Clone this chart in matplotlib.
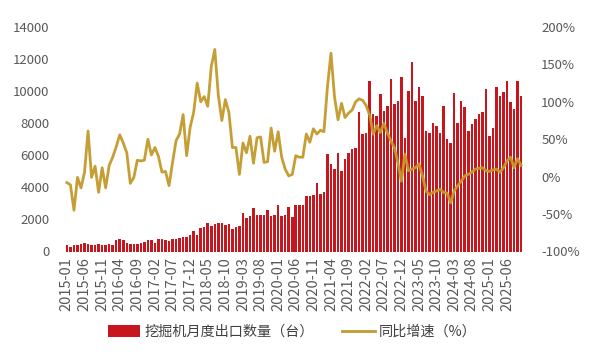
import matplotlib
matplotlib.use("Agg")
import matplotlib.pyplot as plt
from matplotlib.patches import Patch
from matplotlib.lines import Line2D

plt.rcParams['font.family'] = ['Noto Sans CJK SC', 'DejaVu Sans']

# monthly excavator exports (units), 2015-01 .. 2025-10
exports = [
    # 2015
    380, 300, 380, 400, 480, 530, 450, 420, 400, 460, 430, 420,
    # 2016
    450, 400, 700, 750, 720, 500, 470, 450, 480, 560, 620, 690,
    # 2017
    700, 560, 750, 750, 700, 650, 800, 750, 850, 900, 880, 1050,
    # 2018
    1250, 1000, 1450, 1500, 1750, 1600, 1700, 1750, 1800, 1650, 1700, 1400,
    # 2019
    1550, 1600, 2400, 2100, 2200, 2700, 2250, 2300, 2250, 2600, 2200, 2250,
    # 2020
    2900, 2200, 2250, 2800, 2150, 2900, 2900, 2900, 3450, 3450, 3500, 4280,
    # 2021
    3600, 3700, 6060, 5430, 5120, 6160, 5010, 5740, 6120, 6370, 6470, 8670,
    # 2022
    7310, 7410, 10650, 8560, 8460, 9800, 8770, 9080, 10750, 9190, 9400, 10860,
    # 2023
    7100, 10020, 11800, 9400, 10230, 9710, 7520, 7410, 8040, 7830, 7410, 9080,
    # 2024
    7000, 6790, 9900, 8040, 9400, 8980, 7520, 7940, 8250, 8560, 8670, 10130,
    # 2025
    7200, 7730, 10230, 9710, 9920, 10650, 9300, 8870, 10650, 9710,
]

# year-on-year growth (%)
yoy = [
    -8, -11, -45, -1, -15, 6, 61, -1, 14, -21, 12, -15,
    15, 26, 40, 56, 45, 32, -9, -1, 22, 21, 22, 50,
    29, 39, 27, 6, 7, -12, 19, 48, 57, 83, 28, 66,
    86, 125, 100, 107, 94, 147, 170, 109, 75, 103, 86, 39,
    39, 3, 45, 32, 54, 18, 52, 53, 19, 20, 65, 34,
    60, 26, 10, 1, 3, 28, 26, 26, 57, 46, 64, 57,
    62, 60, 120, 165, 107, 76, 98, 79, 85, 89, 100, 104,
    102, 95, 82, 57, 68, 59, 71, 59, 48, 39, 19, -6,
    30, 8, 10, 12, 17, 1, -19, -24, -21, -19, -17, -21,
    -22, -35, -19, -12, -6, 1, 3, 6, 10, 11, 12, 8,
    7, 9, 10, 6, 12, 21, 26, 12, 24, 15,
]

months = [f"{2015 + i // 12}-{i % 12 + 1:02d}" for i in range(len(exports))]
tick_idx = list(range(0, len(exports), 5))
tick_labels = [months[i] for i in tick_idx]

left_ticks = [0, 2000, 4000, 6000, 8000, 10000, 12000, 14000]
right_ticks = [-100, -50, 0, 50, 100, 150, 200]

bar_color = '#C8161E'
line_color = '#C29A2B'
text_color = '#595959'

W, H = 600, 363
fig = plt.figure(figsize=(W / 100, H / 100), dpi=100)
ax = fig.add_axes([62 / W, 1 - 251.5 / H, (526 - 62) / W, (251.5 - 27) / H])
x = list(range(len(exports)))
ax.bar(x, exports, width=0.72, color=bar_color, zorder=2)
ax.set_ylim(0, 14000)
ax.set_xlim(-1.4, len(exports) - 1 + 1.4)
ax.set_yticks(left_ticks)
ax.set_yticklabels([str(v) for v in left_ticks])
ax.set_xticks(tick_idx)
ax.set_xticklabels(tick_labels, rotation=90)

ax2 = ax.twinx()
ax2.plot(x, yoy, color=line_color, lw=2.0, zorder=3, alpha=0.95)
ax2.set_ylim(-100, 200)
ax2.set_yticks(right_ticks)
ax2.set_yticklabels([f"{v}%" for v in right_ticks])

for a in (ax, ax2):
    for s in a.spines.values():
        s.set_visible(False)
    a.tick_params(length=0, labelsize=9.5, colors=text_color)
ax.tick_params(axis='y', pad=9)
ax.tick_params(axis='x', pad=4, labelsize=10.5)
ax2.tick_params(axis='y', pad=11)

handles = [Patch(facecolor=bar_color, edgecolor='none'),
           Line2D([0], [0], color=line_color, lw=2.0)]
labels = ['挖掘机月度出口数量（台）', '同比增速（%）']
fig.legend(handles, labels, loc='center', bbox_to_anchor=(0.487, 1 - 332 / H),
           ncol=2, frameon=False, fontsize=10.2, handlelength=2.3, handleheight=0.9,
           columnspacing=2.0, handletextpad=0.3, labelcolor='#404040')

fig.savefig('out.png', dpi=100)
